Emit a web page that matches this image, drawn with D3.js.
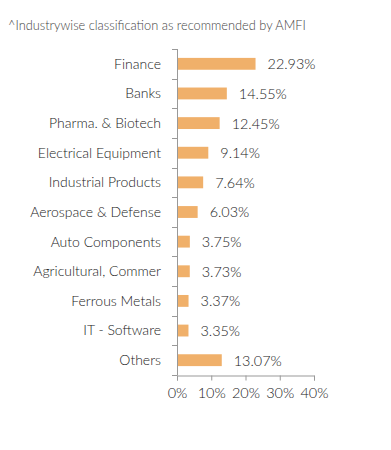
<!DOCTYPE html>
<html><head><meta charset="utf-8">
<script src="https://cdn.jsdelivr.net/npm/d3@7"></script>
<style>body{margin:0;background:#fff}svg{display:block}text{font-family:Lato,sans-serif;font-weight:300}</style>
</head><body>
<svg id="c" width="391" height="450"></svg>
<script>
const categories = ["Finance","Banks","Pharma. & Biotech","Electrical Equipment","Industrial Products","Aerospace & Defense","Auto Components","Agricultural, Commer","Ferrous Metals","IT - Software","Others"];
const values = [22.93,14.55,12.45,9.14,7.64,6.03,3.75,3.73,3.37,3.35,13.07];
const xTicks = [0,10,20,30,40];
const title = "^Industrywise classification as recommended by AMFI";

(function(){
const svg = d3.select("#c");
const L = 177, R = 314, T = 49, B = 375;
const x = d3.scaleLinear().domain([0,40]).range([L,R]);
const y = d3.scaleBand().domain(categories).range([T,B]).paddingInner(0.6).paddingOuter(0.3);

svg.append("text").attr("x",8).attr("y",30).attr("font-size",12.8).attr("fill","#444").text(title);

const axisColor = "#999";
svg.append("line").attr("x1",L+0.5).attr("x2",L+0.5).attr("y1",T).attr("y2",B).attr("stroke",axisColor);
d3.range(categories.length+1).forEach(i=>{
  const yy = Math.round(T + i*(B-T)/categories.length)+0.5;
  svg.append("line").attr("x1",L-5).attr("x2",L+0.5).attr("y1",yy).attr("y2",yy).attr("stroke",axisColor);
});
const xa = svg.append("g").attr("transform",`translate(0,${B+0.5})`)
  .call(d3.axisBottom(x).tickValues(xTicks).tickSize(5).tickPadding(7).tickFormat(d=>d+"%"));
xa.select(".domain").attr("stroke",axisColor);
xa.selectAll(".tick line").attr("stroke",axisColor);
xa.selectAll("text").attr("font-size",14.5).attr("fill","#222").attr("font-family","Lato,sans-serif").attr("font-weight",300);

svg.selectAll(".cat").data(categories).enter().append("text")
  .attr("x",161).attr("y",d=>y(d)+y.bandwidth()/2).attr("dy","0.35em")
  .attr("text-anchor","end").attr("font-size",14).attr("fill","#222").text(d=>d);

svg.selectAll(".bar").data(values).enter().append("rect")
  .attr("x",L+1).attr("y",(d,i)=>y(categories[i]))
  .attr("width",d=>x(d)-L-1).attr("height",y.bandwidth())
  .attr("fill","#F0B06A");

svg.selectAll(".val").data(values).enter().append("text")
  .attr("x",d=>x(d)+12).attr("y",(d,i)=>y(categories[i])+y.bandwidth()/2).attr("dy","0.38em")
  .attr("font-size",14.4).attr("fill","#222").text(d=>d.toFixed(2)+"%");
})();
</script>
</body></html>
